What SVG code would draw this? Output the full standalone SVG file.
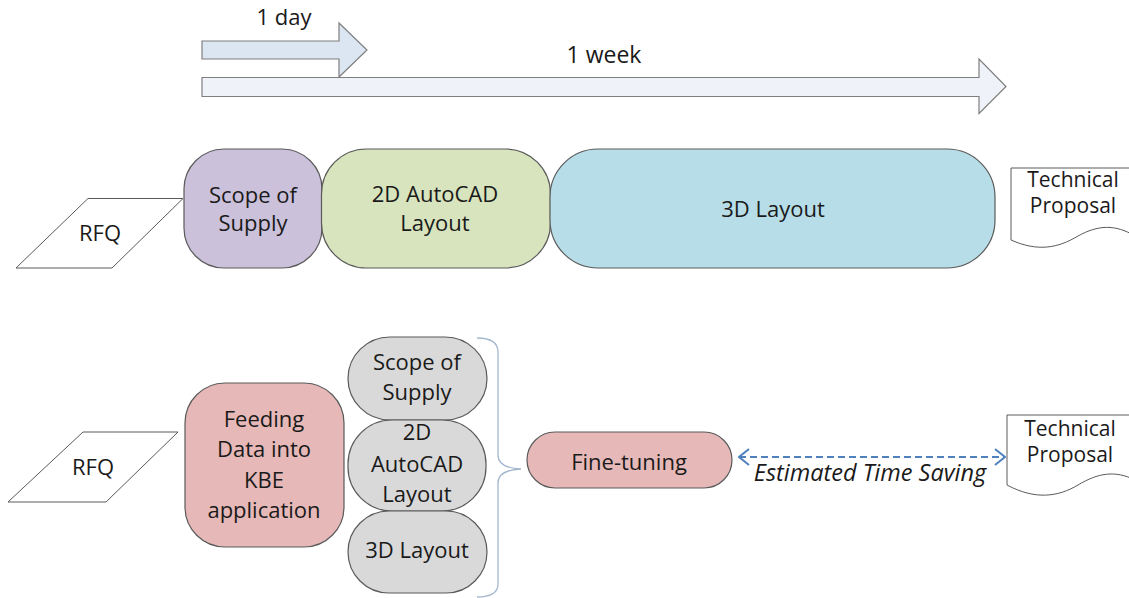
<svg xmlns="http://www.w3.org/2000/svg" width="1129" height="598" viewBox="0 0 1129 598">
<style>
  text { font-family: "Open Sans", "Liberation Sans", sans-serif; font-size: 22px; fill: #1a1a1a; text-anchor: middle; }
  .box { stroke: #5a5a5a; stroke-width: 1.2; }
  .par { fill: #ffffff; stroke: #5a5a5a; stroke-width: 1; }
  .arrow { stroke: #7f7f7f; stroke-width: 1.2; }
  .doc { fill: #ffffff; stroke: #5a5a5a; stroke-width: 1; }
  .doct { font-size: 21px; }
  .it { font-style: italic; font-size: 23.5px; }
</style>
<defs>
  <marker id="chev" viewBox="0 0 12 18" refX="11" refY="9" markerWidth="12" markerHeight="18" markerUnits="userSpaceOnUse" orient="auto-start-reverse">
    <path d="M1,1 L11,9 L1,17" fill="none" stroke="#4f81bd" stroke-width="2"/>
  </marker>
</defs>

<g id="timeline">
  <g id="week-arrow">
    <path class="arrow" d="M202,77.5 H979 V59 L1006,86.5 L979,113.5 V96.5 H202 Z" fill="#eff3f9"/>
    <text x="604" y="63" style="font-size:23px">1 week</text>
  </g>
  <g id="day-arrow">
    <path class="arrow" d="M202,41 H339 V23 L367,50 L339,77 V59 H202 Z" fill="#dce6f2"/>
    <text x="284" y="25">1 day</text>
  </g>
</g>

<g id="top-rfq">
  <polygon class="par" points="88,198.5 183,198.5 112,268 16,268"/>
  <text x="100" y="241">RFQ</text>
</g>
<g id="top-scope">
  <rect class="box" x="184" y="149" width="138" height="119" rx="40" fill="#ccc1da"/>
  <text x="253" y="203">Scope of</text>
  <text x="253" y="231">Supply</text>
</g>
<g id="top-2d">
  <rect class="box" x="321.5" y="149" width="229" height="119" rx="45" fill="#d7e4bd"/>
  <text x="435" y="202">2D AutoCAD</text>
  <text x="435" y="231">Layout</text>
</g>
<g id="top-3d">
  <rect class="box" x="550" y="149" width="445" height="119" rx="48" fill="#b7dee8"/>
  <text x="773" y="217">3D Layout</text>
</g>
<g id="top-doc">
  <path class="doc" d="M1011,168 H1135 V236 C1115,224 1098,225 1078,236 C1058,248 1038,252 1011,240 Z"/>
  <text class="doct" x="1073" y="187">Technical</text>
  <text class="doct" x="1073" y="213">Proposal</text>
</g>

<g id="bottom-rfq">
  <polygon class="par" points="83,432 178,432 106,502 8,502"/>
  <text x="93" y="475">RFQ</text>
</g>
<g id="feeding">
  <rect class="box" x="185" y="383" width="159" height="164" rx="40" fill="#e6b9b8"/>
  <text x="264" y="427">Feeding</text>
  <text x="264" y="457">Data into</text>
  <text x="264" y="488">KBE</text>
  <text x="264" y="518">application</text>
</g>
<g id="gray-scope">
  <rect class="box" x="348" y="337" width="139" height="83" rx="42" fill="#d9d9d9"/>
  <text x="417" y="370">Scope of</text>
  <text x="417" y="400">Supply</text>
</g>
<g id="gray-2d">
  <rect class="box" x="348" y="420" width="138" height="91" rx="44" fill="#d9d9d9"/>
  <text x="417" y="440">2D</text>
  <text x="417" y="472">AutoCAD</text>
  <text x="417" y="502">Layout</text>
</g>
<g id="gray-3d">
  <rect class="box" x="348" y="511" width="139" height="82" rx="41" fill="#d9d9d9"/>
  <text x="417" y="558">3D Layout</text>
</g>
<g id="fine-tuning">
  <rect class="box" x="527" y="432" width="205" height="56" rx="28" fill="#e6b9b8"/>
  <text x="629" y="470">Fine-tuning</text>
</g>
<g id="bottom-doc">
  <path class="doc" d="M1007,415 H1135 V480 C1115,470 1098,473 1078,485 C1058,497 1035,500 1007,485 Z"/>
  <text class="doct" x="1070" y="436">Technical</text>
  <text class="doct" x="1070" y="462">Proposal</text>
</g>

<g id="connectors">
  <path d="M477,338 Q498,338 498,352 V455 Q498,468 521,469 Q498,470 498,483 V584 Q498,597 477,597" fill="none" stroke="#a3b8cf" stroke-width="1.3"/>
  <line x1="739" y1="457" x2="1005" y2="457" stroke="#4f81bd" stroke-width="2" stroke-dasharray="7,4" marker-start="url(#chev)" marker-end="url(#chev)"/>
  <text class="it" x="870" y="481">Estimated Time Saving</text>
</g>
</svg>
